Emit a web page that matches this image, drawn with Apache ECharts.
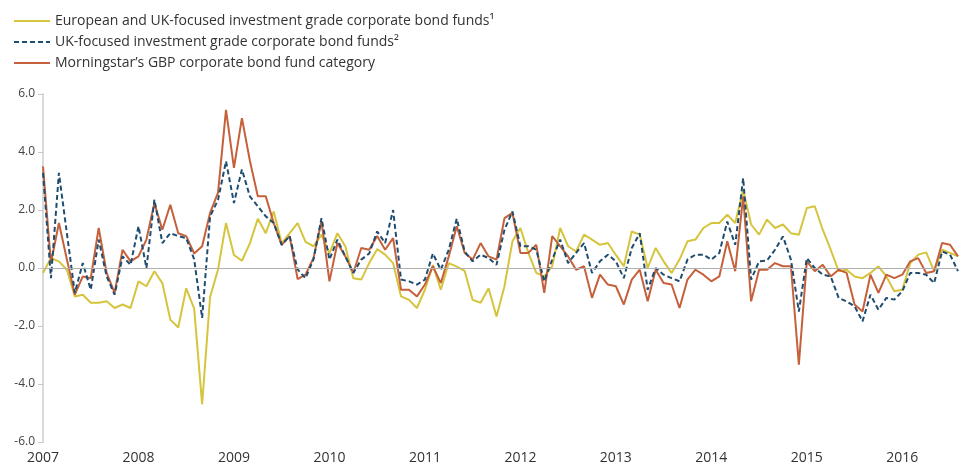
<!DOCTYPE html>
<html>
<head>
<meta charset="utf-8">
<script src="https://cdn.jsdelivr.net/npm/echarts@6/dist/echarts.min.js"></script>
<style>
html,body{margin:0;padding:0;background:#fff;}
#chart{width:962px;height:469px;}
</style>
</head>
<body>
<div id="chart"></div>
<script>
// Monthly data, Jan 2007 – Aug 2016
var startYear = 2007;
var monthCount = 116;

var seriesNames = [
  "European and UK-focused investment grade corporate bond funds\u00B9",
  "UK-focused investment grade corporate bond funds\u00B2",
  "Morningstar\u2019s GBP corporate bond fund category"
];

var europeanUK = [
  -0.17, 0.34, 0.23, -0.06, -0.98, -0.92, -1.2, -1.2, -1.15, -1.38, -1.26, -1.38,
  -0.46, -0.63, -0.11, -0.52, -1.78, -2.05, -0.7, -1.4, -4.7, -1.0, -0.05, 1.55,
  0.45, 0.25, 0.85, 1.7, 1.2, 1.95, 0.85, 1.2, 1.55, 0.9, 0.75, 1.15,
  0.5, 1.2, 0.75, -0.35, -0.4, 0.17, 0.65, 0.46, 0.17, -0.98, -1.1, -1.38,
  -0.75, 0.1, -0.75, 0.17, 0.05, -0.1, -1.1, -1.2, -0.7, -1.67, -0.63, 0.92,
  1.38, 0.52, -0.17, -0.29, 0.06, 1.38, 0.75, 0.57, 1.15, 0.98, 0.8, 0.86,
  0.45, 0.06, 1.26, 1.15, 0.0, 0.69, 0.23, -0.17, 0.29, 0.92, 0.98, 1.38,
  1.55, 1.55, 1.84, 1.55, 2.7, 1.5, 1.15, 1.67, 1.38, 1.5, 1.2, 1.15,
  2.07, 2.13, 1.32, 0.63, -0.11, -0.06, -0.29, -0.35, -0.17, 0.06, -0.29, -0.8,
  -0.75, 0.17, 0.46, 0.54, -0.11, 0.63, 0.52, 0.4
];

var ukFocused = [
  3.28, -0.35, 3.28, 1.2, -0.86, 0.17, -0.75, 0.98, -0.29, -0.92, 0.4, 0.11,
  1.44, 0.0, 2.36, 0.86, 1.2, 1.1, 1.03, 0.3, -1.72, 1.78, 2.35, 3.68,
  2.24, 3.4, 2.47, 2.13, 1.78, 1.55, 0.8, 1.1, -0.05, -0.35, 0.3, 1.72,
  0.29, 0.98, 0.4, -0.17, 0.29, 0.5, 1.26, 0.86, 2.0, -0.4, -0.46, -0.57,
  -0.4, 0.5, -0.06, 0.63, 1.7, 0.57, 0.23, 0.46, 0.34, 0.11, 1.32, 1.95,
  0.75, 0.75, 0.63, -0.46, 0.29, 0.98, 0.17, 0.52, 0.86, -0.17, 0.23, 0.46,
  0.23, -0.35, 0.69, 1.2, -0.75, 0.0, -0.23, -0.35, -0.46, 0.29, 0.46, 0.46,
  0.29, 0.52, 1.6, 0.8, 3.1, -0.4, 0.23, 0.26, 0.63, 1.09, 0.29, -1.5,
  0.34, 0.0, -0.23, -0.29, -1.03, -1.15, -1.32, -1.84, -0.92, -1.44, -1.03, -1.09,
  -0.8, -0.17, -0.17, -0.23, -0.52, 0.57, 0.46, -0.11
];

var morningstar = [
  3.5, 0.17, 1.55, 0.3, -0.92, -0.29, -0.35, 1.38, -0.17, -0.86, 0.63, 0.23,
  0.4, 0.98, 2.24, 1.32, 2.18, 1.2, 1.1, 0.5, 0.75, 1.9, 2.6, 5.45,
  3.45, 5.17, 3.7, 2.47, 2.47, 1.55, 0.8, 1.1, -0.38, -0.23, 0.35, 1.62,
  -0.46, 0.86, 0.4, -0.17, 0.69, 0.63, 1.1, 0.63, 1.03, -0.75, -0.75, -0.98,
  -0.57, 0.06, -0.52, 0.4, 1.44, 0.52, 0.29, 0.86, 0.4, 0.29, 1.72, 1.9,
  0.52, 0.52, 0.8, -0.86, 1.1, 0.75, 0.4, -0.06, 0.06, -1.03, -0.23, -0.57,
  -0.63, -1.26, -0.4, -0.06, -1.15, -0.06, -0.52, -0.57, -1.38, -0.4, -0.06, -0.23,
  -0.46, -0.29, 0.92, -0.11, 2.47, -1.15, -0.06, -0.06, 0.17, 0.06, 0.06, -3.33,
  0.23, -0.11, 0.11, -0.29, -0.06, -0.17, -1.26, -1.5, -0.23, -0.86, -0.23, -0.35,
  -0.23, 0.23, 0.34, -0.17, -0.11, 0.86, 0.8, 0.4
];

var yTicks = { min: -6, max: 6, interval: 2 };

var categories = [];
for (var i = 0; i < monthCount; i++) {
  var y = startYear + Math.floor(i / 12);
  var m = (i % 12) + 1;
  categories.push(y + "-" + (m < 10 ? "0" + m : m));
}

var colors = ["#d5c43c", "#1f4d70", "#c5603a"];

var chart = echarts.init(document.getElementById("chart"), null, { renderer: "canvas" });
chart.setOption({
  animation: false,
  backgroundColor: "#ffffff",
  color: colors,
  textStyle: { fontFamily: "Open Sans, Noto Sans, sans-serif" },
  legend: {
    orient: "vertical",
    left: 8,
    top: 9,
    itemWidth: 36,
    itemHeight: 14,
    itemGap: 7,
    itemStyle: { opacity: 0 },
    textStyle: { fontSize: 14, color: "#333" },
    data: seriesNames
  },
  grid: { left: 43, right: 4, top: 94, bottom: 27 },
  xAxis: {
    type: "category",
    data: categories,
    boundaryGap: false,
    axisLine: { show: false },
    axisTick: { show: false },
    splitLine: { show: false },
    axisLabel: {
      interval: 11,
      fontSize: 14,
      color: "#333",
      margin: 9,
      formatter: function (v) { return v.slice(0, 4); }
    }
  },
  yAxis: {
    type: "value",
    min: yTicks.min,
    max: yTicks.max,
    interval: yTicks.interval,
    splitLine: { show: false },
    axisLine: { show: true, lineStyle: { color: "#dadada", width: 2 } },
    axisTick: { show: true, length: 5, lineStyle: { color: "#c8c8c8" } },
    axisLabel: {
      fontSize: 12,
      color: "#444",
      margin: 8,
      formatter: function (v) { return v.toFixed(1); }
    }
  },
  series: [
    {
      name: seriesNames[0],
      type: "line",
      data: europeanUK,
      symbol: "none",
      lineStyle: { width: 2, color: colors[0] },
      z: 2,
      markLine: {
        silent: true,
        symbol: "none",
        label: { show: false },
        lineStyle: { color: "#b0b0b0", width: 1, type: "solid" },
        data: [{ yAxis: 0 }]
      }
    },
    {
      name: seriesNames[1],
      type: "line",
      data: ukFocused,
      symbol: "none",
      lineStyle: { width: 2, color: colors[1], type: [5, 3] },
      z: 4
    },
    {
      name: seriesNames[2],
      type: "line",
      data: morningstar,
      symbol: "none",
      lineStyle: { width: 2, color: colors[2] },
      z: 3
    }
  ]
});
</script>
</body>
</html>
